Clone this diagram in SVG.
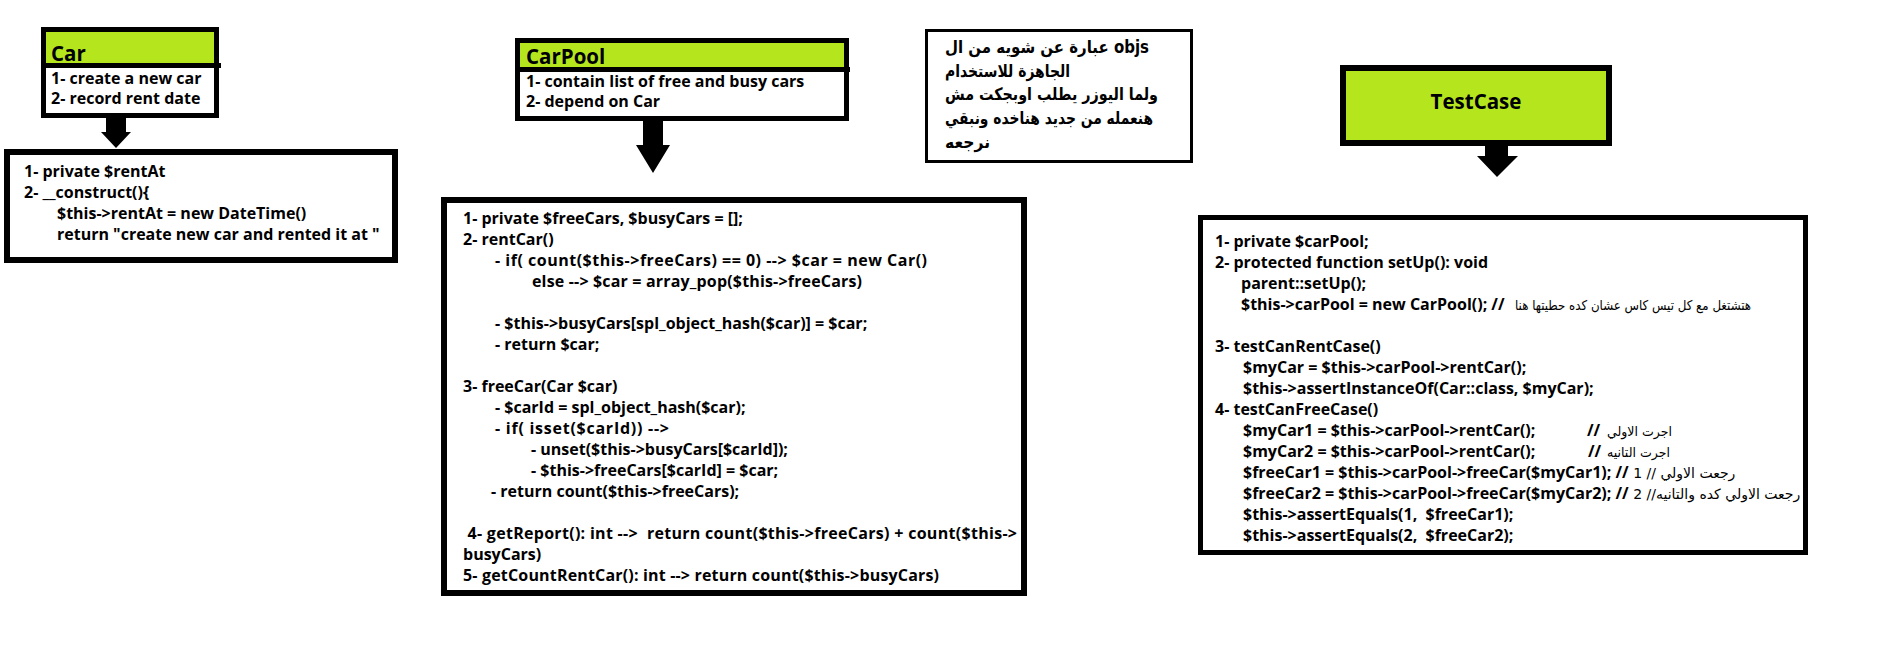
<svg xmlns="http://www.w3.org/2000/svg" width="1888" height="672" viewBox="0 0 1888 672">
<style>
text{font-family:"Open Sans","Noto Sans",sans-serif;font-weight:700;font-size:16px;fill:#000;white-space:pre}
.h{font-size:20.5px}
.ar{font-family:"DejaVu Sans",sans-serif;font-weight:400;font-size:13.5px}
.ar2{font-family:"DejaVu Sans",sans-serif;font-weight:400;font-size:14px}
.arb{font-family:"DejaVu Sans","Open Sans",sans-serif;font-weight:700;font-size:17px}
.box{fill:#fff;stroke:#000}
.hdr{fill:#b5e61d}
.sep{stroke:#000;stroke-width:5}
.arrow{fill:#000;stroke:none}
</style>
<rect width="1888" height="672" fill="#fff"/>

<g id="car">
<rect class="box" x="43.5" y="29.5" width="173" height="86" stroke-width="5"/>
<rect class="hdr" x="46" y="32" width="168" height="31"/>
<line class="sep" x1="41" y1="65.5" x2="221" y2="65.5"/>
<text class="h" x="51" y="60.5">Car</text>
<text x="51" y="84">1- create a new car</text>
<text x="51" y="104">2- record rent date</text>
</g>

<g id="car-impl">
<rect class="box" x="7" y="152" width="388" height="108" stroke-width="6"/>
<text x="24" y="177">1- private $rentAt</text>
<text x="24" y="198">2- __construct(){</text>
<text x="57" y="219">$this-&gt;rentAt = new DateTime()</text>
<text x="57" y="240">return "create new car and rented it at "</text>
</g>

<g id="carpool">
<rect class="box" x="517.5" y="40.5" width="329" height="78" stroke-width="5"/>
<rect class="hdr" x="520" y="43" width="324" height="24"/>
<line class="sep" x1="515" y1="69.5" x2="850" y2="69.5"/>
<text class="h" x="526" y="64">CarPool</text>
<text x="526" y="86.5">1- contain list of free and busy cars</text>
<text x="526" y="107">2- depend on Car</text>
</g>

<g id="carpool-impl">
<rect class="box" x="444" y="200" width="580" height="393" stroke-width="6"/>
<text x="463" y="224">1- private $freeCars, $busyCars = [];</text>
<text x="463" y="245">2- rentCar()</text>
<text x="495" y="266" textLength="432" lengthAdjust="spacing">- if( count($this-&gt;freeCars) == 0) --&gt; $car = new Car()</text>
<text x="532" y="287" textLength="330" lengthAdjust="spacing">else --&gt; $car = array_pop($this-&gt;freeCars)</text>
<text x="495" y="329">- $this-&gt;busyCars[spl_object_hash($car)] = $car;</text>
<text x="495" y="350">- return $car;</text>
<text x="463" y="392">3- freeCar(Car $car)</text>
<text x="495" y="413">- $carId = spl_object_hash($car);</text>
<text x="495" y="434" textLength="174" lengthAdjust="spacing">- if( isset($carId)) --&gt;</text>
<text x="531" y="455">- unset($this-&gt;busyCars[$carId]);</text>
<text x="531" y="476">- $this-&gt;freeCars[$carId] = $car;</text>
<text x="491" y="497">- return count($this-&gt;freeCars);</text>
<text x="463" y="539" textLength="554" lengthAdjust="spacing"> 4- getReport(): int --&gt;  return count($this-&gt;freeCars) + count($this-&gt;</text>
<text x="463" y="560">busyCars)</text>
<text x="463" y="581" textLength="476" lengthAdjust="spacing">5- getCountRentCar(): int --&gt; return count($this-&gt;busyCars)</text>
</g>

<g id="note">
<rect class="box" x="926.5" y="30.5" width="265" height="131" stroke-width="3"/>
<text class="arb" x="945" y="53" textLength="204" lengthAdjust="spacingAndGlyphs">عبارة عن شويه من ال objs</text>
<text class="arb" x="945" y="77" textLength="125" lengthAdjust="spacingAndGlyphs">الجاهزة للاستخدام</text>
<text class="arb" x="945" y="100" textLength="213" lengthAdjust="spacingAndGlyphs">ولما اليوزر يطلب اوبجكت مش</text>
<text class="arb" x="945" y="124" textLength="208" lengthAdjust="spacingAndGlyphs">هنعمله من جديد هناخده ونبقي</text>
<text class="arb" x="945" y="148" textLength="45" lengthAdjust="spacingAndGlyphs">نرجعه</text>
</g>

<g id="testcase">
<rect class="hdr" x="1343" y="68" width="266" height="75" stroke="#000" stroke-width="6"/>
<text class="h" x="1476" y="109" text-anchor="middle">TestCase</text>
</g>

<g id="testcase-impl">
<rect class="box" x="1200.5" y="217.5" width="605" height="335" stroke-width="5"/>
<text x="1215" y="246.5">1- private $carPool;</text>
<text x="1215" y="267.5">2- protected function setUp(): void</text>
<text x="1241" y="288.5">parent::setUp();</text>
<text x="1241" y="309.5">$this-&gt;carPool = new CarPool(); //</text>
<text class="ar" x="1515" y="309.5" textLength="236" lengthAdjust="spacingAndGlyphs">هتشتغل مع كل تيس كاس عشان كده حطيتها هنا</text>
<text x="1215" y="351.5">3- testCanRentCase()</text>
<text x="1243" y="372.5">$myCar = $this-&gt;carPool-&gt;rentCar();</text>
<text x="1243" y="393.5">$this-&gt;assertInstanceOf(Car::class, $myCar);</text>
<text x="1215" y="414.5">4- testCanFreeCase()</text>
<text x="1243" y="435.5">$myCar1 = $this-&gt;carPool-&gt;rentCar();</text>
<text x="1587" y="435.5">//</text>
<text class="ar" x="1607" y="435.5" textLength="65" lengthAdjust="spacingAndGlyphs">اجرت الاولي</text>
<text x="1243" y="456.5">$myCar2 = $this-&gt;carPool-&gt;rentCar();</text>
<text x="1588" y="456.5">//</text>
<text class="ar" x="1607" y="456.5" textLength="63" lengthAdjust="spacingAndGlyphs">اجرت التانيه</text>
<text x="1243" y="477.5">$freeCar1 = $this-&gt;carPool-&gt;freeCar($myCar1); //<tspan class="ar2"> 1 // رجعت الاولي</tspan></text>
<text x="1243" y="498.5">$freeCar2 = $this-&gt;carPool-&gt;freeCar($myCar2); //<tspan class="ar2"> 2 //رجعت الاولي كده والتانيه</tspan></text>
<text x="1243" y="519.5">$this-&gt;assertEquals(1,  $freeCar1);</text>
<text x="1243" y="540.5">$this-&gt;assertEquals(2,  $freeCar2);</text>
</g>

<g id="connectors">
<polygon class="arrow" points="106,118 126,118 126,132 131,132 116,148 101,132 106,132"/>
<polygon class="arrow" points="643,121 663,121 663,145 670,145 653,173 636,145 643,145"/>
<polygon class="arrow" points="1485,146 1508,146 1508,156 1518,156 1497,177 1477,156 1485,156"/>
</g>
</svg>
